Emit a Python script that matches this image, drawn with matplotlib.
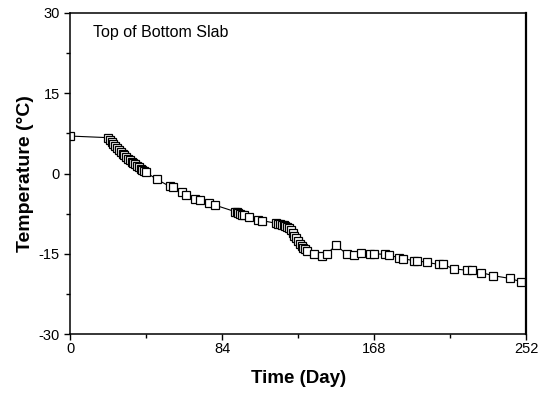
import matplotlib.pyplot as plt
import numpy as np

plt.rcParams['font.family'] = ['Liberation Sans', 'DejaVu Sans']
plt.rcParams['axes.unicode_minus'] = False

# time (day) and temperature (deg C)
days = [0,
        21, 22, 23, 24, 25, 26, 27, 28, 29, 30, 31, 32, 33, 34, 35, 36, 37, 38, 39, 40, 41,
        42, 48, 55, 57, 62, 64, 69, 72, 77, 80,
        91, 92, 93, 94, 95, 96, 99, 104, 106,
        114, 115, 116, 117, 118, 119, 120, 121, 122, 123, 124, 125, 126, 127, 128, 129, 130, 131,
        135, 139.5, 142, 147, 153, 157, 161, 166, 168, 174, 176, 182, 184,
        190, 192, 197, 204, 206, 212, 219.5, 222, 227, 234, 243, 249]
temps = [7.0,
         6.7, 6.3, 5.9, 5.5, 5.1, 4.7, 4.4, 4.0, 3.7, 3.4, 3.1, 2.8, 2.5, 2.2, 1.9, 1.7, 1.4, 1.2, 0.9, 0.7, 0.5,
         0.2, -1.1, -2.4, -2.6, -3.5, -4.0, -4.7, -4.9, -5.6, -5.9,
         -7.1, -7.2, -7.4, -7.5, -7.7, -7.8, -8.2, -8.6, -8.8,
         -9.3, -9.4, -9.5, -9.6, -9.7, -9.9, -10.0, -10.2, -10.6, -11.1, -11.6, -12.1, -12.6, -13.1, -13.5, -13.9, -14.2, -14.5,
         -15.0, -15.5, -15.0, -13.4, -15.1, -15.2, -14.8, -15.0, -15.0, -15.1, -15.3, -15.7, -15.9,
         -16.3, -16.3, -16.6, -17.0, -17.0, -17.8, -18.1, -18.1, -18.5, -19.1, -19.6, -20.2]

xticks = [0, 84, 168, 252]
yticks = [-30, -15, 0, 15, 30]

fig = plt.figure(figsize=(5.39, 3.93), dpi=100)
ax = fig.add_axes([0.130, 0.150, 0.846, 0.817])

ax.plot(days, temps, color='black', lw=0.8, marker='s', ms=6.3,
        mfc='white', mec='black', mew=0.9)

ax.set_xlim(0, 252)
ax.set_ylim(-30, 30)
ax.set_xticks(xticks)
ax.set_xticks([42, 126, 210], minor=True)
ax.set_yticks(yticks)
ax.set_yticks(np.arange(-22.5, 30, 15), minor=True)
ax.tick_params(which='major', direction='out', length=4, width=1, labelsize=10.5)
ax.tick_params(which='minor', direction='out', length=3, width=1)
ax.tick_params(axis='x', pad=2)
for s in ax.spines.values():
    s.set_linewidth(1.1)
ax.spines['right'].set_linewidth(1.6)

ax.set_xlabel('Time (Day)', fontsize=13.5, fontweight='bold', labelpad=10)
ax.set_ylabel('Temperature (°C)', fontsize=14, fontweight='bold', labelpad=3)
ax.text(0.05, 0.94, 'Top of Bottom Slab', transform=ax.transAxes,
        fontsize=11.5, va='center', ha='left')

fig.savefig('out.png', dpi=100)
